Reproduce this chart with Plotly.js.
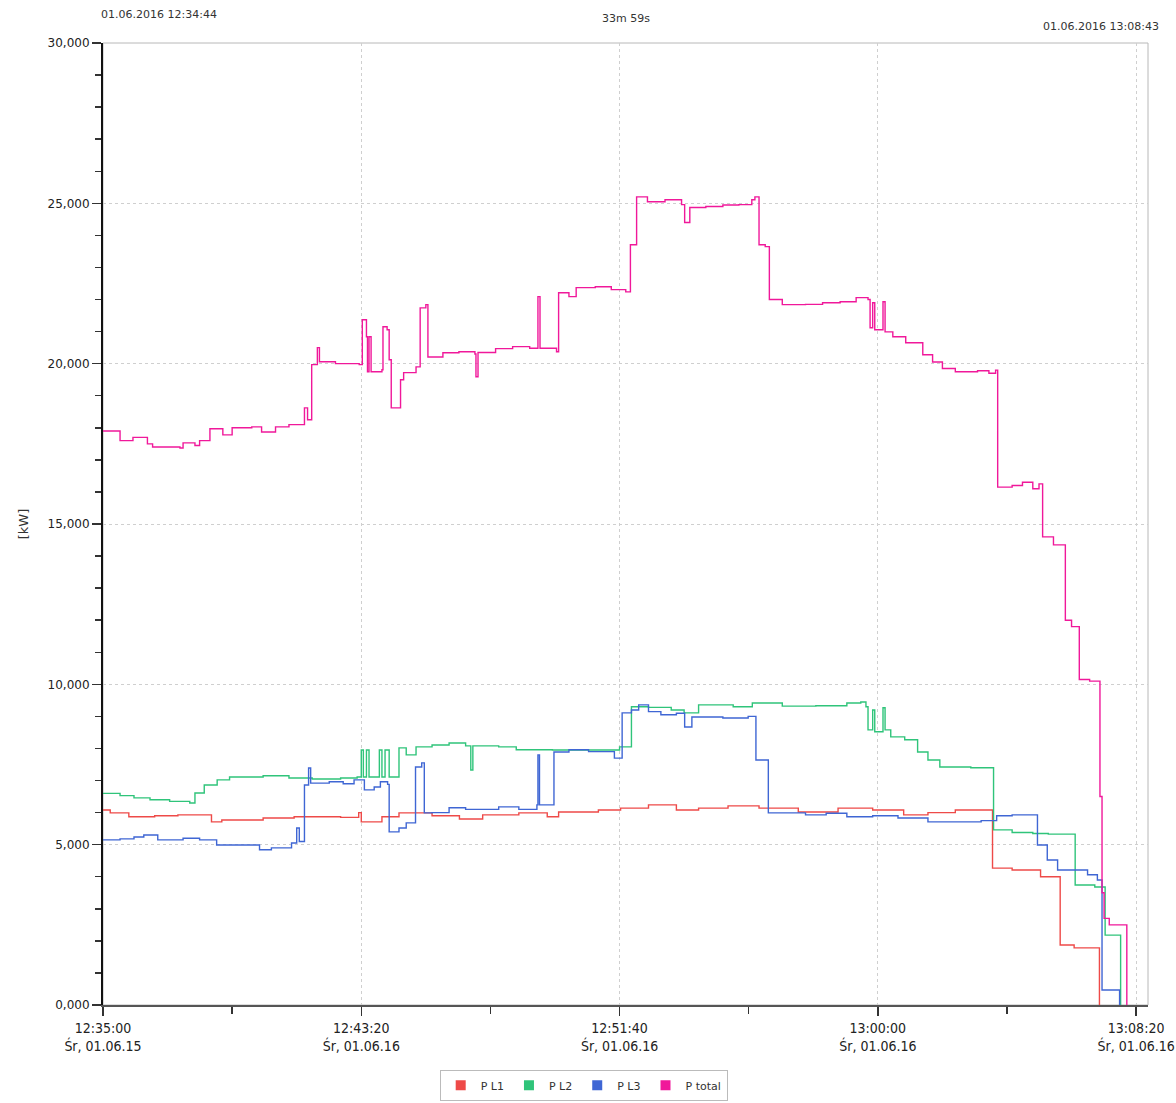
<!DOCTYPE html>
<html>
<head>
<meta charset="utf-8">
<script src="https://cdn.plot.ly/plotly-3.0.1.min.js"></script>
<style>
html,body{margin:0;padding:0;background:#fff;}
#chart{width:1176px;height:1103px;}
</style>
</head>
<body>
<div id="chart"></div>
<script>
// ---------- DATA ----------
const day = "2016-06-01 ";

const totalTimes = ["12:35:00","12:35:33","12:35:58","12:36:26","12:36:36","12:37:29","12:37:35","12:37:58","12:38:07","12:38:27","12:38:52","12:39:10","12:39:48","12:40:07","12:40:34","12:41:00","12:41:30","12:41:36","12:41:44","12:41:55","12:41:59","12:42:30","12:43:16","12:43:22","12:43:30","12:43:32","12:43:35","12:43:39","12:44:00","12:44:02","12:44:10","12:44:14","12:44:18","12:44:36","12:44:42","12:45:06","12:45:14","12:45:25","12:45:29","12:45:58","12:46:29","12:47:00","12:47:02","12:47:06","12:47:40","12:48:13","12:48:46","12:49:02","12:49:06","12:49:38","12:49:42","12:50:02","12:50:16","12:50:53","12:51:24","12:51:52","12:52:01","12:52:13","12:52:34","12:53:08","12:53:40","12:53:46","12:53:56","12:54:27","12:55:00","12:55:31","12:55:56","12:56:02","12:56:10","12:56:22","12:56:30","12:56:55","12:57:40","12:58:13","12:58:47","12:59:18","12:59:41","12:59:45","12:59:50","12:59:54","13:00:10","13:00:14","13:00:29","13:00:54","13:01:27","13:01:46","13:02:05","13:02:30","13:03:13","13:03:35","13:03:48","13:03:52","13:04:20","13:04:40","13:05:00","13:05:12","13:05:19","13:05:40","13:06:03","13:06:15","13:06:30","13:06:50","13:07:10","13:07:14","13:07:18","13:07:28","13:08:02","13:08:20","13:08:43"];
const totalValues = [17900,17600,17700,17500,17400,17370,17530,17450,17600,17970,17780,18000,18030,17870,18030,18100,18620,18250,19970,20500,20060,20000,19970,21370,20840,19750,20840,19750,19810,21150,21060,20120,18620,19500,19720,19900,21740,21840,20210,20340,20370,20300,19590,20350,20470,20530,20480,22090,20480,20370,22210,22090,22370,22400,22310,22240,23710,25200,25050,25110,24960,24400,24870,24900,24950,24960,25110,25200,23710,23650,22000,21840,21850,21900,21930,22060,22000,21120,21900,21060,21930,20990,20840,20650,20280,20050,19850,19750,19780,19700,19800,16150,16200,16300,16100,16250,14600,14350,12000,11800,10150,10100,6500,3500,2700,2500,-100,-150,-150];

const l2Times = ["12:35:00","12:35:33","12:36:00","12:36:31","12:37:09","12:37:48","12:37:58","12:38:16","12:38:41","12:39:05","12:40:10","12:41:00","12:41:45","12:42:40","12:43:12","12:43:20","12:43:24","12:43:30","12:43:35","12:43:55","12:44:00","12:44:06","12:44:14","12:44:33","12:44:47","12:45:06","12:45:37","12:46:10","12:46:42","12:46:52","12:46:56","12:47:46","12:48:20","12:49:30","12:50:50","12:51:40","12:51:58","12:52:03","12:52:36","12:53:20","12:53:45","12:54:13","12:55:20","12:55:57","12:56:55","12:58:00","12:59:00","12:59:27","12:59:37","12:59:41","12:59:50","12:59:54","13:00:10","13:00:14","13:00:25","13:00:52","13:01:17","13:01:37","13:02:00","13:03:00","13:03:40","13:03:44","13:04:20","13:05:00","13:05:30","13:06:22","13:07:00","13:07:20","13:07:50","13:08:05","13:08:43"];
const l2Values = [6600,6530,6460,6400,6350,6300,6610,6860,7020,7110,7150,7080,7050,7080,7110,7950,7110,7950,7110,7950,7110,7950,7110,8020,7800,8050,8110,8170,8080,7330,8080,8050,7960,7950,7950,8050,8050,9300,9280,9200,9110,9360,9300,9420,9320,9330,9420,9450,9300,8580,9200,8520,9270,8580,8360,8270,7890,7640,7420,7400,7400,5460,5380,5350,5330,3740,3680,2180,-300,-100,-100];

const l1Times = ["12:35:00","12:35:14","12:35:50","12:36:40","12:37:25","12:38:30","12:38:50","12:40:10","12:41:10","12:42:40","12:43:15","12:43:20","12:44:00","12:44:33","12:45:37","12:46:30","12:47:15","12:48:25","12:49:20","12:49:42","12:50:59","12:51:42","12:52:36","12:53:30","12:54:13","12:55:10","12:56:10","12:57:26","12:58:43","12:59:50","13:00:50","13:01:37","13:02:30","13:03:42","13:04:20","13:05:15","13:05:53","13:06:20","13:07:09","13:07:20","13:08:43"];
const l1Values = [6080,5990,5870,5900,5930,5710,5770,5830,5870,5850,6000,5710,5870,5990,5900,5800,5930,5990,5870,6020,6080,6140,6240,6080,6140,6210,6140,6020,6140,6080,5930,6000,6080,4270,4210,4000,1870,1780,-300,-100,-100];

const l3Times = ["12:35:00","12:35:33","12:36:00","12:36:19","12:36:46","12:37:35","12:38:07","12:38:40","12:39:44","12:40:03","12:40:26","12:41:05","12:41:15","12:41:20","12:41:30","12:41:38","12:41:42","12:42:18","12:42:45","12:43:06","12:43:26","12:43:45","12:43:57","12:44:11","12:44:14","12:44:33","12:44:47","12:45:05","12:45:17","12:45:22","12:45:37","12:46:10","12:46:42","12:47:46","12:48:25","12:49:00","12:49:02","12:49:05","12:49:33","12:50:02","12:50:40","12:51:30","12:51:45","12:52:03","12:52:17","12:52:36","12:53:00","12:53:30","12:53:46","12:54:00","12:55:00","12:55:49","12:56:04","12:56:28","12:57:40","12:58:20","12:59:00","12:59:50","13:00:39","13:01:37","13:03:20","13:03:50","13:04:20","13:05:09","13:05:28","13:05:48","13:06:46","13:07:05","13:07:14","13:07:48","13:08:43"];
const l3Values = [5150,5180,5240,5300,5150,5200,5150,4990,4990,4840,4900,5050,5520,5100,6860,7390,6920,6960,6900,7020,6710,6800,6960,6880,5400,5520,5680,7420,7550,5990,6000,6150,6100,6180,6100,6240,7800,6240,7890,7960,7900,7700,9110,9200,9360,9150,9050,9100,8670,8980,8950,9000,7640,5990,5930,5980,5870,5900,5830,5710,5750,5900,5930,4990,4520,4210,4060,3900,470,-150,-150];

const seriesNames = ["P L1", "P L2", "P L3", "P total"];
const seriesColors = ["#ee4a48", "#2fc47a", "#3f66d4", "#f0189a"];

const xTickTimes = ["12:35:00","12:43:20","12:51:40","13:00:00","13:08:20"];
const xTickText = ["12:35:00<br>Śr, 01.06.15","12:43:20<br>Śr, 01.06.16","12:51:40<br>Śr, 01.06.16","13:00:00<br>Śr, 01.06.16","13:08:20<br>Śr, 01.06.16"];
const xMinorTimes = ["12:39:10","12:47:30","12:55:50","13:04:10"];
const yTickValues = [0,5000,10000,15000,20000,25000,30000];
const yTickText = ["0,000","5,000","10,000","15,000","20,000","25,000","30,000"];

const headerLeft = "01.06.2016 12:34:44";
const headerMid = "33m 59s";
const headerRight = "01.06.2016 13:08:43";
const yTitle = "[kW]";

// ---------- BUILD ----------
const toDate = t => day + t;
const dataSets = [
  [l1Times, l1Values],
  [l2Times, l2Values],
  [l3Times, l3Values],
  [totalTimes, totalValues]
];
const traces = [];
dataSets.forEach((d, i) => {
  traces.push({
    type: "scatter", mode: "lines",
    x: d[0].map(toDate), y: d[1],
    line: {color: seriesColors[i], width: 1.4, shape: "hv"},
    showlegend: false, hoverinfo: "skip"
  });
});
// legend entries (square swatches)
seriesNames.forEach((n, i) => {
  traces.push({
    type: "scatter", mode: "markers",
    x: [null], y: [null], name: n,
    marker: {symbol: "square", size: 10, color: seriesColors[i]},
    showlegend: true
  });
});

const font = "DejaVu Sans, Verdana, sans-serif";
const condFont = "DejaVu Sans Condensed, DejaVu Sans, sans-serif";

const layout = {
  width: 1176, height: 1103,
  paper_bgcolor: "#fff", plot_bgcolor: "#fff",
  margin: {l: 103, r: 28, t: 43, b: 98, autoexpand: false},
  font: {family: font, color: "#333", size: 12},
  xaxis: {
    type: "date",
    range: [toDate("12:35:00"), toDate("13:08:43")],
    tickmode: "array",
    tickvals: xTickTimes.map(toDate),
    ticktext: xTickText,
    ticks: "outside", ticklen: 9, tickwidth: 1.5, tickcolor: "#333",
    tickfont: {family: condFont, size: 14, color: "#222"},
    showline: true, linecolor: "#555", linewidth: 2,
    showgrid: true, gridcolor: "#cfcfcf", griddash: "dot", gridwidth: 1,
    zeroline: false,
    minor: {tickmode: "array", tickvals: xMinorTimes.map(toDate), ticks: "outside", ticklen: 7, tickcolor: "#333", showgrid: false},
    fixedrange: true
  },
  yaxis: {
    range: [0, 30000],
    tickmode: "array",
    tickvals: yTickValues,
    ticktext: yTickText,
    ticks: "outside", ticklen: 9, tickwidth: 1.5, tickcolor: "#333",
    tickfont: {family: font, size: 12, color: "#222"},
    showline: true, linecolor: "#111", linewidth: 2,
    showgrid: true, gridcolor: "#cfcfcf", griddash: "dot", gridwidth: 1,
    zeroline: false,
    minor: {dtick: 1000, ticks: "outside", ticklen: 6, tickcolor: "#333", showgrid: false},
    title: {text: yTitle, font: {family: font, size: 13, color: "#333"}, standoff: 16},
    fixedrange: true
  },
  shapes: [
    {type: "rect", xref: "paper", yref: "paper", x0: 0, x1: 1, y0: 0, y1: 1,
     line: {color: "#b8b8b8", width: 1}, layer: "below"}
  ],
  annotations: [
    {text: headerLeft, xref: "paper", yref: "paper", x: -0.004, y: 1.03, xanchor: "left", yanchor: "middle", showarrow: false, font: {family: font, size: 11, color: "#333"}},
    {text: headerMid, xref: "paper", yref: "paper", x: 0.5, y: 1.025, xanchor: "center", yanchor: "middle", showarrow: false, font: {family: font, size: 11, color: "#333"}},
    {text: headerRight, xref: "paper", yref: "paper", x: 1.012, y: 1.017, xanchor: "right", yanchor: "middle", showarrow: false, font: {family: font, size: 11, color: "#333"}}
  ],
  legend: {
    orientation: "h", x: 0.46, xanchor: "center",
    yref: "container", y: 0.002, yanchor: "bottom",
    font: {family: font, size: 11, color: "#333"},
    bordercolor: "#bbb", borderwidth: 1, bgcolor: "#fff",
    traceorder: "normal"
  },
  hovermode: false
};

Plotly.newPlot("chart", traces, layout, {displayModeBar: false, staticPlot: true});
</script>
</body>
</html>
